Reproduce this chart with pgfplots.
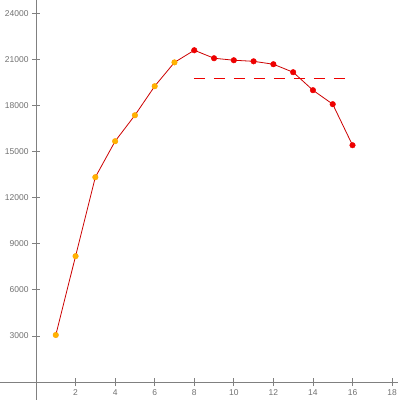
\documentclass[border=0pt]{standalone}
\usepackage{pgfplots}
\pgfplotsset{compat=1.18}
\usepackage{fontspec}
\setmainfont{Liberation Sans}
\definecolor{axgray}{HTML}{808080}
\definecolor{txgray}{HTML}{707070}
\definecolor{lred}{HTML}{CC0000}
\definecolor{mred}{HTML}{EE0000}
\definecolor{morange}{HTML}{FFB300}
\begin{document}
\begin{tikzpicture}[x=1bp,y=1bp]
\begin{axis}[
  scale only axis,
  width=398bp, height=400bp,
  axis lines=middle,
  axis line style={-, axgray, line width=1bp},
  xmin=-1.82, xmax=18.3,
  ymin=-1170, ymax=24860,
  xtick={2,4,...,18},
  ytick={3000,6000,...,24000},
  tick align=center,
  major tick length=8bp,
  tick style={axgray, line width=0.8bp},
  ticklabel style={font=\fontsize{8.5}{9}\selectfont, text=txgray},
  /pgf/number format/assume math mode=true,
  scaled y ticks=false,
  yticklabel style={/pgf/number format/1000 sep={}},
  clip=false,
]
\addplot[lred, line width=0.8bp] coordinates {
(1,3060) (2,8190) (3,13330) (4,15670) (5,17360) (6,19250) (7,20800)
(8,21590) (9,21070) (10,20940) (11,20870) (12,20680) (13,20160)
(14,18990) (15,18080) (16,15410)};
\addplot[only marks, mark=*, mark size=2.8bp, mark options={fill=morange, draw=morange!90!red}] coordinates {
(1,3060) (2,8190) (3,13330) (4,15670) (5,17360) (6,19250) (7,20800)};
\addplot[only marks, mark=*, mark size=2.8bp, mark options={fill=mred, draw=mred}] coordinates {
(8,21590) (9,21070) (10,20940) (11,20870) (12,20680) (13,20160)
(14,18990) (15,18080) (16,15410)};
\addplot[mred, line width=1.2bp, dash pattern=on 11bp off 9bp] coordinates {(7.98,19770) (15.6,19770)};
\end{axis}
\pgfresetboundingbox
\path (current axis.south west) rectangle (current axis.north east);
\end{tikzpicture}
\end{document}
